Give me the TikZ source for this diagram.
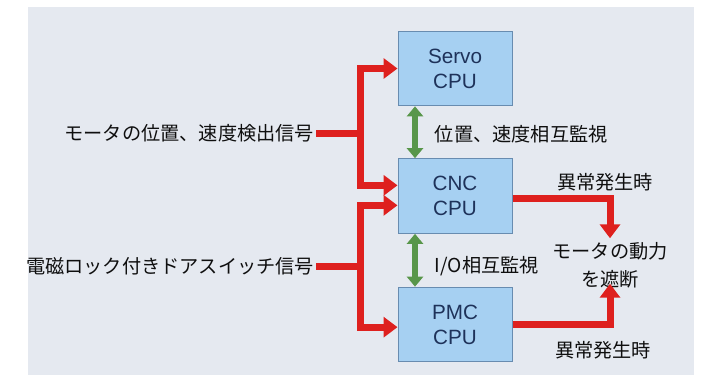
\documentclass[tikz,border=0pt]{standalone}
\usepackage{fontspec}
\setmainfont{Liberation Sans}
\newfontfamily\jpfont{Noto Sans CJK JP}
\usetikzlibrary{arrows.meta}

\definecolor{sigred}{RGB}{222,32,30}
\definecolor{mongreen}{RGB}{88,150,74}
\definecolor{cpufill}{RGB}{166,208,242}
\definecolor{cpuline}{RGB}{104,140,176}
\definecolor{cputext}{RGB}{30,50,90}
\definecolor{backfill}{RGB}{229,233,240}

\tikzset{every picture/.style={line width=0.75pt}}
\tikzset{
  cpubox/.style={draw=cpuline, fill=cpufill, minimum width=85.5pt, minimum height=56pt,
    align=center, font=\fontsize{15.5}{18.75}\selectfont, text=cputext},
  jptext/.style={font=\jpfont\fontsize{14.4}{21}\selectfont, text={rgb,255:red,15;green,15;blue,15}},
  sigline/.style={draw=sigred, line width=5.25pt},
  sigarrow/.style={sigline, -{Triangle[length=10.5pt,width=15pt]}},
  monarrow/.style={draw=mongreen, line width=4.5pt, {Triangle[length=7.5pt,width=12pt]}-{Triangle[length=7.5pt,width=12pt]}}
}

\begin{document}
\begin{tikzpicture}[x=0.75pt,y=0.75pt,yscale=-1,xscale=1]
\useasboundingbox (0,0) rectangle (716,379);

%Shape: Rectangle [background]
\fill [backfill] (28,7) rectangle (694,375);

%Shape: Rectangle [cpu boxes]
\draw (455,68.5) node [cpubox] (servo) {Servo\\CPU};
\draw (455,196) node [cpubox] (cnc) {CNC\\CPU};
\draw (455,324.5) node [cpubox] (pmc) {PMC\\CPU};

% Text Node
\draw (316,133) node [jptext, anchor=east, inner sep=1pt] (pos) {モータの位置、速度検出信号};
% Text Node
\draw (316,266) node [jptext, anchor=east, inner sep=1pt] (door) {電磁ロック付きドアスイッチ信号};
% Text Node
\draw (430,134) node [jptext, anchor=west] (mon1) {位置、速度相互監視};
% Text Node
\draw (430,266) node [jptext, anchor=west] (mon2) {I/O相互監視};
% Text Node
\draw (610,265) node [jptext, align=center, inner ysep=4pt] (cut) {モータの動力\\を遮断};
% Text Node
\draw (605,182) node [jptext] (err1) {異常発生時};
% Text Node
\draw (603,350) node [jptext] (err2) {異常発生時};

% Branch points
\coordinate (j1) at (360,133);
\coordinate (j2) at (360,266);

%Straight Lines [signal inputs]  (yscale=-1: a positive yshift goes down)
\draw [sigline] (pos.east) -- (j1);
\draw [sigarrow] (j1) |- (servo.west);
\draw [sigarrow] (j1) |- ([yshift=-8pt]cnc.west);
\draw [sigline] (door.east) -- (j2);
\draw [sigarrow] (j2) |- ([yshift=7pt]cnc.west);
\draw [sigarrow] (j2) |- ([yshift=2pt]pmc.west);

%Straight Lines [abnormal stop]
\draw [sigarrow] ([yshift=1.5pt]cnc.east) -| ([yshift=1.5pt]cut.north);
\draw [sigarrow] (pmc.east) -| ([yshift=-7.5pt]cut.south);

%Straight Lines [mutual monitoring]
\draw [monarrow] ([xshift=-30pt]servo.south) -- ([xshift=-30pt]cnc.north);
\draw [monarrow] ([xshift=-30pt]cnc.south) -- ([xshift=-30pt]pmc.north);

\end{tikzpicture}
\end{document}
